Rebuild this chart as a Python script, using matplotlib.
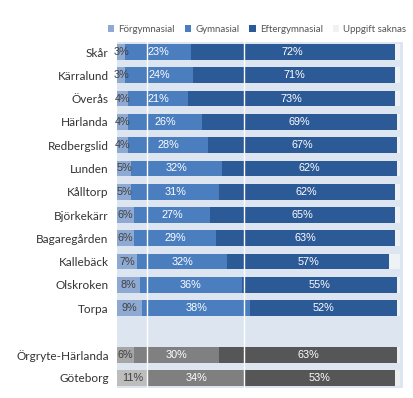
import matplotlib
matplotlib.use("Agg")
import matplotlib.pyplot as plt
from matplotlib.patches import Patch

categories = ["Skår", "Kärralund", "Överås", "Härlanda", "Redbergslid", "Lunden",
              "Kålltorp", "Björkekärr", "Bagaregården", "Kallebäck", "Olskroken",
              "Torpa", "", "Örgryte-Härlanda", "Göteborg"]
forgymnasial = [3, 3, 4, 4, 4, 5, 5, 6, 6, 7, 8, 9, None, 6, 11]
gymnasial = [23, 24, 21, 26, 28, 32, 31, 27, 29, 32, 36, 38, None, 30, 34]
eftergymnasial = [72, 71, 73, 69, 67, 62, 62, 65, 63, 57, 55, 52, None, 63, 53]
series_names = ["Förgymnasial", "Gymnasial", "Eftergymnasial", "Uppgift saknas"]

blue_cols = ["#8eaad2", "#4a7ebf", "#2c5a96", "#eef1f5"]
gray_cols = {13: ["#a6a6a6", "#808080", "#565656", "#eeeeee"],
             14: ["#bdbdbd", "#7f7f7f", "#565656", "#eeeeee"]}

fig = plt.figure(figsize=(4.14, 3.98), dpi=100)
ax = fig.add_axes([117/414, 1-388/398, (403-117)/414, 346/398])
ax.set_facecolor("#dce5f0")
ax.set_xlim(0, 1.01)
ax.set_ylim(14.43, -0.43)

h = 0.68
for i, cat in enumerate(categories):
    if forgymnasial[i] is None:
        continue
    vals = [forgymnasial[i], gymnasial[i], eftergymnasial[i]]
    rest = max(0, 100 - sum(vals))
    vals_all = vals + [rest]
    cols = gray_cols.get(i, blue_cols)
    left = 0
    for j, v in enumerate(vals_all):
        w = v / 100
        ax.barh(i, w, left=left, height=h, color=cols[j], zorder=2, linewidth=0)
        if j < 3:
            tc = "#404040" if j == 0 else "white"
            ax.text(left + w/2, i, f"{v}%", ha="center", va="center",
                    fontsize=7.8, color=tc, family="Liberation Sans", zorder=4)
        left += w

for xv in [0.105, 0.45]:
    ax.axvline(xv, color="white", lw=1.0, zorder=3)

ax.set_yticks(range(len(categories)))
ax.set_yticklabels(categories, fontsize=8.5, family="Lato", color="#333333")
ax.tick_params(axis="y", length=0, pad=6)
ax.set_xticks([])
for s in ax.spines.values():
    s.set_visible(False)

handles = [Patch(facecolor=c, edgecolor="none") for c in blue_cols]
leg = fig.legend(handles, series_names, loc="center", bbox_to_anchor=(257/414, 1-29/398),
                 ncol=4, frameon=False, handlelength=0.7, handleheight=0.7,
                 handletextpad=0.4, columnspacing=1.0,
                 prop={"family": "Lato", "size": 7.0})
for t in leg.get_texts():
    t.set_color("#555555")

fig.savefig("out.png", dpi=100, facecolor="white")
